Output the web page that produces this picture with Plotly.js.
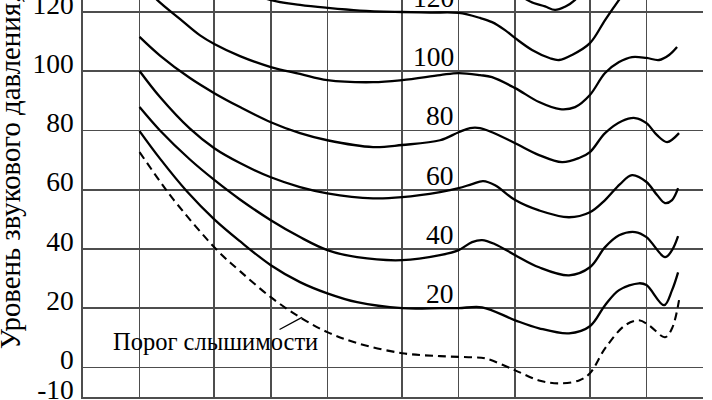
<!DOCTYPE html>
<html><head><meta charset="utf-8">
<script src="https://cdn.plot.ly/plotly-3.0.1.min.js"></script>
<style>html,body{margin:0;padding:0;background:#fff;} #chart{width:712px;height:400px;}</style>
</head><body><div id="chart"></div>
<script>
// Frequencies (Hz) and sound pressure levels (dB)
const f130 = [1800, 2313, 2884, 3261, 3687, 4168, 5200];
const L130 = [132, 124.1, 121.9, 120.7, 121.8, 124.1, 132];

const f120 = [68.5, 99, 143, 200, 298, 500, 705, 1000, 1300, 1506, 1766, 2000, 2459, 3067, 3424, 4016, 5000, 6020, 7148, 8178];
const L120 = [128.1, 124.1, 122.4, 121.4, 120.5, 120.0, 119.8, 119.7, 118.0, 116.6, 113.9, 111.2, 107.2, 104.4, 103.8, 105.5, 109.5, 117.3, 124.1, 129.1];

const f100 = [20, 24.8, 32.9, 42, 50, 68.5, 100, 143, 200, 350, 500, 796, 1000, 1300, 1506, 2000, 2680, 3467, 4168, 5000, 6020, 7148, 8378, 10000, 11670, 13195, 14554];
const L100 = [130.5, 124.1, 117.6, 112.1, 109.2, 105.1, 101.4, 99.1, 97.0, 96.3, 97.0, 98.7, 99.4, 98.7, 98.0, 94.3, 89.6, 87.2, 87.9, 92.0, 99.4, 103.1, 104.8, 104.5, 103.8, 105.5, 108.2];

const f80 = [20, 25.7, 37.1, 50, 68.5, 100, 143, 200, 350, 500, 796, 1000, 1150, 1300, 1506, 2000, 2680, 3553, 4377, 5000, 6020, 7418, 8697, 10000, 11387, 12875, 14912];
const L80 = [111.6, 105.3, 97.7, 92.6, 87.9, 82.8, 79.1, 76.7, 74.4, 75.1, 76.7, 79.4, 80.8, 80.8, 79.4, 75.7, 71.7, 69.3, 70.7, 72.7, 79.1, 83.2, 84.2, 82.5, 78.4, 76.1, 79.1];

const f60 = [20, 25.7, 37.1, 50, 68.5, 100, 143, 200, 350, 500, 796, 1000, 1179, 1350, 1563, 2000, 2680, 3871, 5000, 6020, 7236, 8378, 10000, 11387, 12560, 13688, 14735];
const L60 = [100.1, 91.3, 80.6, 74.0, 69.0, 64.2, 60.9, 58.8, 57.1, 57.5, 59.2, 60.5, 61.9, 62.9, 61.5, 56.5, 53.0, 50.7, 52.4, 56.5, 61.9, 64.9, 62.6, 58.2, 55.5, 56.5, 60.5];

const f40 = [20, 25.7, 37.1, 50, 68.5, 100, 143, 200, 288, 500, 796, 1000, 1179, 1333, 1563, 2000, 2680, 3871, 5000, 6020, 7148, 8697, 10000, 12560, 13688, 14735];
const L40 = [87.9, 80.0, 70.2, 63.3, 56.7, 49.7, 44.0, 39.6, 37.2, 36.2, 37.9, 39.6, 42.3, 43.0, 41.6, 37.9, 33.8, 31.1, 33.8, 40.6, 44.6, 45.7, 44.0, 37.2, 39.6, 44.3];

const f20 = [20, 25.7, 35.8, 50, 68.5, 100, 143, 200, 288, 500, 796, 1000, 1333, 2000, 2680, 3871, 5000, 6020, 7148, 9134, 10000, 12410, 13688, 14735];
const L20 = [79.8, 70.5, 59.4, 50.0, 42.6, 34.5, 28.8, 25.0, 22.0, 20.0, 20.0, 20.0, 20.3, 15.9, 13.2, 11.5, 13.9, 21.0, 26.1, 28.4, 27.8, 21.0, 26.1, 32.1];

const fThr = [20, 24.8, 30.2, 51.7, 68.5, 100, 143, 200, 288, 500, 796, 1192, 1382, 2000, 2680, 3424, 4377, 5000, 6020, 7691, 9134, 10323, 12560, 13688, 14912];
const LThr = [72.7, 64.2, 56.8, 39.6, 32.5, 23.7, 16.9, 11.9, 8.2, 4.8, 3.8, 3.4, 3.1, -1.0, -4.4, -5.4, -4.4, -2.0, 6.4, 14.2, 15.9, 14.2, 10.2, 13.2, 22.7];

const curveLabels = ['120', '100', '80', '60', '40', '20'];
const curveLevels = [120, 100, 80, 60, 40, 20];
const thresholdLabel = 'Порог слышимости';
const yTitle = 'Уровень звукового давления, дБ';
const xTickVals = [10, 20, 50, 100, 200, 500, 1000, 2000, 5000, 10000, 20000];
const yTickVals = [-10, 0, 20, 40, 60, 80, 100, 120];
const yTickText = ['-10', '0', '20', '40', '60', '80', '100', '120'];

const FONT = '"Liberation Serif", "Times New Roman", serif';
const solidCurves = [[f130, L130], [f120, L120], [f100, L100], [f80, L80], [f60, L60], [f40, L40], [f20, L20]];
const traces = solidCurves.map(([x, y]) => ({
  x: x, y: y, type: 'scatter', mode: 'lines', hoverinfo: 'skip',
  line: {color: '#000', width: 2.3, shape: 'spline', smoothing: 1}
}));
traces.push({
  x: fThr, y: LThr, type: 'scatter', mode: 'lines', hoverinfo: 'skip',
  line: {color: '#000', width: 2.1, shape: 'spline', smoothing: 1, dash: '8px,5px'}
});

const labelX = Math.log10(968);
const annotations = curveLabels.map((t, i) => ({
  x: labelX, y: curveLevels[i] + 1.4, xref: 'x', yref: 'y', text: t,
  showarrow: false, xanchor: 'right', yanchor: 'bottom', yshift: -7,
  font: {family: FONT, size: 27.5, color: '#000'}
}));
annotations.push({
  xref: 'paper', yref: 'paper', x: 0, y: 0.115, xanchor: 'center', yanchor: 'bottom',
  xshift: -73, textangle: -90, text: yTitle, showarrow: false,
  font: {family: FONT, size: 28.8, color: '#000'}
});
annotations.push({
  xref: 'x', yref: 'y', x: Math.log10(50.5), y: 8.8, text: thresholdLabel,
  showarrow: false, xanchor: 'center', yanchor: 'middle',
  font: {family: FONT, size: 24.5, color: '#000'}
});
annotations.push({
  xref: 'x', yref: 'y', x: Math.log10(146.6), y: 16.9, text: '',
  showarrow: true, arrowhead: 0, arrowwidth: 1.3, arrowcolor: '#000',
  ax: -24, ay: 13, standoff: 0
});

const gridColor = '#4d4d4d';
const layout = {
  width: 712, height: 400,
  margin: {l: 83, r: 9, t: 0, b: 3, pad: 0},
  paper_bgcolor: '#fff', plot_bgcolor: '#fff',
  showlegend: false,
  font: {family: FONT, color: '#000'},
  xaxis: {
    type: 'log', range: [1, Math.log10(20000)], tickmode: 'array', tickvals: xTickVals,
    showticklabels: false, showgrid: true, gridcolor: gridColor, gridwidth: 1.7,
    showline: true, linecolor: gridColor, linewidth: 1.7, zeroline: false, ticks: ''
  },
  yaxis: {
    range: [-10, 124.06], tickmode: 'array', tickvals: yTickVals, ticktext: yTickText,
    showgrid: true, gridcolor: gridColor, gridwidth: 1.7,
    showline: true, linecolor: gridColor, linewidth: 1.7, zeroline: false, ticks: '',
    ticklabelstandoff: 2, ticklabelshift: -8, ticklabeloverflow: 'allow',
    tickfont: {family: FONT, size: 27.5, color: '#000'}
  },
  annotations: annotations
};
Plotly.newPlot('chart', traces, layout, {staticPlot: true, displayModeBar: false});
</script>
</body></html>
